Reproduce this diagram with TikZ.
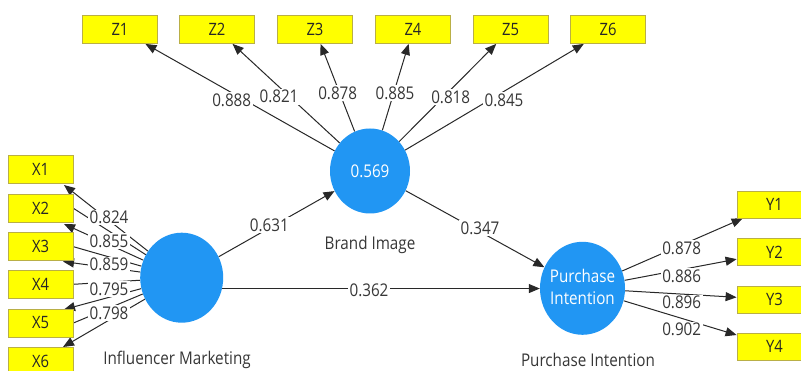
\documentclass[tikz,border=0pt]{standalone}
\usepackage{fontspec}
\setmainfont{Open Sans}[FakeStretch=0.87]
\usetikzlibrary{arrows.meta,shapes.geometric}
\definecolor{pblue}{RGB}{33,150,243}
\definecolor{ybox}{RGB}{255,255,0}
\definecolor{yedge}{RGB}{185,175,70}
\definecolor{txt}{RGB}{55,55,55}
\definecolor{lin}{RGB}{40,40,40}
\pgfdeclarelayer{back}
\pgfdeclarelayer{lines}
\pgfsetlayers{back,lines,main}
\begin{document}
\begin{tikzpicture}[x=1pt,y=-1pt,
  lv/.style={ellipse, fill=pblue, draw=none, inner sep=0pt},
  ind/.style={rectangle, fill=ybox, draw=yedge, line width=0.8pt, minimum height=28pt, inner sep=0pt, font=\fontsize{17}{20}\selectfont, text=black!85},
  zind/.style={ind, minimum width=75pt},
  xind/.style={ind, minimum width=65pt},
  arr/.style={draw=lin, line width=1pt, -{Triangle[length=11pt,width=9pt]}},
  plain/.style={draw=lin, line width=1pt},
  val/.style={fill=white, inner sep=1.5pt, text=txt, font=\fontsize{17.5}{20}\selectfont},
  captext/.style={text=txt, font=\fontsize{17.5}{20}\selectfont, anchor=base, inner sep=0pt},
  intext/.style={text=white, font=\fontsize{17.5}{22}\selectfont, align=center, inner sep=0pt}
]
\clip (0,0) rectangle (801,371);
\begin{pgfonlayer}{back}
\fill[white] (0,0) rectangle (801,371);
\end{pgfonlayer}

% latent variables
\node[lv, minimum width=80pt, minimum height=85pt] (bi) at (370,171) {};
\node[lv, minimum width=83pt, minimum height=90pt] (inf) at (181.7,277.7) {};
\node[lv, minimum width=85pt, minimum height=93pt] (pi) at (582.5,288.3) {};
\node[intext] (bitext) at (370,171.7) {0.569};
\node[intext] (pitext) at (582.5,287) {Purchase\\Intention};

% captions
\node[captext] (bicap) at (370,250) {Brand Image};
\node[captext] (infcap) at (177,365) {Influencer Marketing};
\node[captext] (picap) at (588,367) {Purchase Intention};

% Z indicators
\node[zind] (z1) at (120,29.5) {Z1};
\node[zind] (z2) at (217,29.5) {Z2};
\node[zind] (z3) at (315,29.5) {Z3};
\node[zind] (z4) at (413,29.5) {Z4};
\node[zind] (z5) at (510.5,29.5) {Z5};
\node[zind] (z6) at (608,29.5) {Z6};

% Y indicators
\node[zind, minimum height=27pt] (y1) at (774.5,204.5) {Y1};
\node[zind, minimum height=27pt] (y2) at (774.5,252) {Y2};
\node[zind, minimum height=27pt] (y3) at (774.5,299.5) {Y3};
\node[zind, minimum height=27pt] (y4) at (774.5,346.5) {Y4};

% X indicators
\node[xind] (x1) at (40.5,169) {X1};
\node[xind] (x2) at (40.5,208.3) {X2};
\node[xind] (x3) at (40.5,246.7) {X3};
\node[xind] (x4) at (40.5,284.3) {X4};
\node[xind] (x5) at (40.5,323) {X5};
\node[xind] (x6) at (40.5,361) {X6};

% arrow ends near X boxes
\coordinate (ax1) at (64,185);
\coordinate (ax2) at (64,224);
\coordinate (ax3) at (63,261.5);
\coordinate (ax5) at (64,309.5);
\coordinate (ax6) at (63,347);

\begin{pgfonlayer}{lines}
% Brand Image -> Z
\draw[arr] (bi) -- (z1);
\draw[arr] (bi) -- (z2);
\draw[arr] (bi) -- (z3);
\draw[arr] (bi) -- (z4);
\draw[arr] (bi) -- (z5);
\draw[arr] (bi) -- (z6);
% Purchase -> Y
\draw[arr] (pi) -- (y1);
\draw[arr] (pi) -- (y2);
\draw[arr] (pi) -- (y3);
\draw[arr] (pi) -- (y4);
% Influencer -> X
\draw[plain] (inf) -- (x2.east);
\draw[plain] (inf) -- (x3.east);
\draw[plain] (inf) -- (x4.east);
\draw[plain] (inf) -- (x5.east);
\draw[arr] (inf) -- (ax1);
\draw[arr] (inf) -- (ax2);
\draw[arr] (inf) -- (ax3);
\draw[arr] (inf) -- (ax5);
\draw[arr] (inf) -- (ax6);
% structural paths
\draw[arr] (inf) -- (bi);
\draw[arr] (bi) -- (pi);
\draw[arr] (inf.-15) -- (inf.-15 -| pi.west);
\end{pgfonlayer}

% path coefficients
\node[val] (c1) at (269.3,225) {0.631};
\node[val] (c2) at (480,228.3) {0.347};
\node[val] (c3) at (369,290) {0.362};

% Z loadings
\node[val] (lz1) at (231.7,100) {0.888};
\node[val] (lz2) at (279,96.7) {0.821};
\node[val] (lz3) at (337.7,93.3) {0.878};
\node[val] (lz4) at (395,93.3) {0.885};
\node[val] (lz5) at (450.7,97.3) {0.818};
\node[val] (lz6) at (504,100) {0.845};

% Y loadings
\node[val] (ly1) at (681.7,248) {0.878};
\node[val] (ly2) at (681.7,276) {0.886};
\node[val] (ly3) at (681.7,302.5) {0.896};
\node[val] (ly4) at (681.7,329.7) {0.902};

% X loadings
\node[val] (lx1) at (109,217.5) {0.824};
\node[val] (lx2) at (109,241) {0.855};
\node[val] (lx3) at (109,264.5) {0.859};
\node[val] (lx4) at (109,289) {0.795};
\node[val] (lx5) at (109,313) {0.798};
\end{tikzpicture}
\end{document}
